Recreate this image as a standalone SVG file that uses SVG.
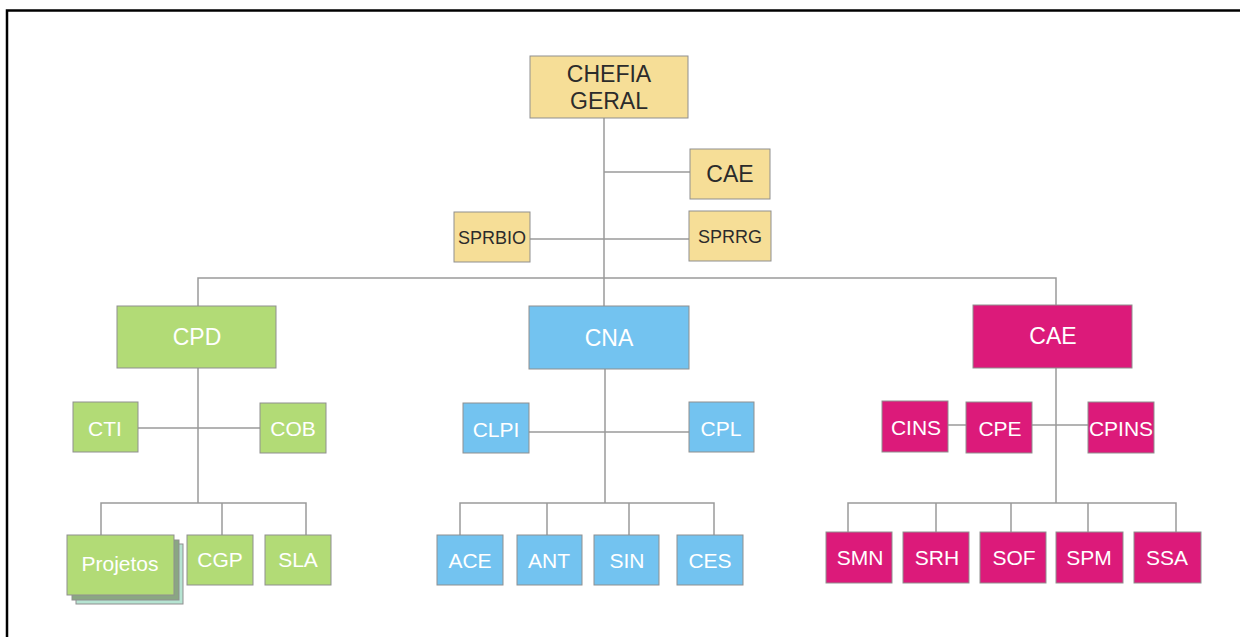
<svg xmlns="http://www.w3.org/2000/svg" width="1240" height="637" viewBox="0 0 1240 637">
  <style>
    .frame { fill: none; stroke: #000; stroke-width: 2.5; }
    .link { fill: none; stroke: #9a9a9a; stroke-width: 1.5; }
    .box { stroke: #8f8f8f; stroke-width: 1; }
    .yellow { fill: #F6DE97; }
    .green { fill: #B2DB76; }
    .blue { fill: #73C3F0; }
    .pink { fill: #DC1A7A; }
    text { font-family: "Liberation Sans", Arial, sans-serif; text-anchor: middle; dominant-baseline: central; }
    .dark { fill: #2b2b2b; }
    .light { fill: #ffffff; }
    .big { font-size: 23px; }
    .mid { font-size: 21px; }
    .sm { font-size: 18px; }
  </style>
  <rect width="1240" height="637" fill="#ffffff"/>
  <!-- page frame: top and left edges -->
  <path class="frame" d="M7 637 V10.5 H1240"/>

  <!-- connectors -->
  <g id="connectors">
    <path class="link" d="M604 118 V306"/>
    <path class="link" d="M604 172 H690"/>
    <path class="link" d="M530 239 H689"/>
    <path class="link" d="M198 306 V278 H1056 V305"/>
    <!-- CPD branch -->
    <path class="link" d="M198 368 V503"/>
    <path class="link" d="M138 428 H260"/>
    <path class="link" d="M101 535 V503 H306 V535"/>
    <path class="link" d="M222 503 V535"/>
    <!-- CNA branch -->
    <path class="link" d="M605 369 V503"/>
    <path class="link" d="M529 432 H689"/>
    <path class="link" d="M460 535 V503 H714 V535"/>
    <path class="link" d="M547 503 V535"/>
    <path class="link" d="M629 503 V535"/>
    <!-- CAE branch -->
    <path class="link" d="M1056 368 V503"/>
    <path class="link" d="M948 425 H966"/>
    <path class="link" d="M1032 425 H1088"/>
    <path class="link" d="M848 532 V503 H1176 V532"/>
    <path class="link" d="M936 503 V532"/>
    <path class="link" d="M1011 503 V532"/>
    <path class="link" d="M1088 503 V532"/>
  </g>

  <!-- top level -->
  <g id="chefia">
    <rect class="box yellow" x="530" y="56" width="158" height="62"/>
    <text class="dark big" x="609" y="74">CHEFIA</text>
    <text class="dark big" x="609" y="101">GERAL</text>
  </g>
  <g id="cae-top">
    <rect class="box yellow" x="690" y="149" width="80" height="50"/>
    <text class="dark big" x="730" y="174">CAE</text>
  </g>
  <g id="sprbio">
    <rect class="box yellow" x="454" y="212" width="76" height="50"/>
    <text class="dark sm" x="492" y="238">SPRBIO</text>
  </g>
  <g id="sprrg">
    <rect class="box yellow" x="689" y="211" width="82" height="50"/>
    <text class="dark sm" x="730" y="237">SPRRG</text>
  </g>

  <!-- CPD branch -->
  <g id="cpd">
    <rect class="box green" x="117" y="306" width="159" height="62"/>
    <text class="light big" x="197" y="337">CPD</text>
  </g>
  <g id="cti">
    <rect class="box green" x="73" y="402" width="65" height="50"/>
    <text class="light mid" x="105" y="428">CTI</text>
  </g>
  <g id="cob">
    <rect class="box green" x="260" y="403" width="66" height="50"/>
    <text class="light mid" x="293" y="428">COB</text>
  </g>
  <g id="projetos">
    <rect x="76" y="544" width="107" height="60" fill="#B6E4D2" stroke="#8f8f8f" stroke-width="1"/>
    <rect x="72" y="540" width="107" height="60" fill="#8AA683" stroke="#8f8f8f" stroke-width="1"/>
    <rect class="box green" x="67" y="535" width="107" height="60"/>
    <text class="light mid" x="120" y="563">Projetos</text>
  </g>
  <g id="cgp">
    <rect class="box green" x="187" y="535" width="66" height="50"/>
    <text class="light mid" x="220" y="559">CGP</text>
  </g>
  <g id="sla">
    <rect class="box green" x="265" y="535" width="66" height="50"/>
    <text class="light mid" x="298" y="559">SLA</text>
  </g>

  <!-- CNA branch -->
  <g id="cna">
    <rect class="box blue" x="529" y="306" width="160" height="63"/>
    <text class="light big" x="609" y="338">CNA</text>
  </g>
  <g id="clpi">
    <rect class="box blue" x="463" y="403" width="66" height="50"/>
    <text class="light mid" x="496" y="429">CLPI</text>
  </g>
  <g id="cpl">
    <rect class="box blue" x="689" y="402" width="65" height="50"/>
    <text class="light mid" x="721" y="428">CPL</text>
  </g>
  <g id="ace">
    <rect class="box blue" x="437" y="535" width="66" height="50"/>
    <text class="light mid" x="470" y="560">ACE</text>
  </g>
  <g id="ant">
    <rect class="box blue" x="517" y="535" width="65" height="50"/>
    <text class="light mid" x="549" y="560">ANT</text>
  </g>
  <g id="sin">
    <rect class="box blue" x="594" y="535" width="65" height="50"/>
    <text class="light mid" x="627" y="560">SIN</text>
  </g>
  <g id="ces">
    <rect class="box blue" x="677" y="535" width="66" height="50"/>
    <text class="light mid" x="710" y="560">CES</text>
  </g>

  <!-- CAE branch -->
  <g id="cae">
    <rect class="box pink" x="973" y="305" width="159" height="63"/>
    <text class="light big" x="1053" y="336">CAE</text>
  </g>
  <g id="cins">
    <rect class="box pink" x="882" y="401" width="66" height="51"/>
    <text class="light mid" x="916" y="427">CINS</text>
  </g>
  <g id="cpe">
    <rect class="box pink" x="966" y="402" width="66" height="51"/>
    <text class="light mid" x="1000" y="428">CPE</text>
  </g>
  <g id="cpins">
    <rect class="box pink" x="1088" y="402" width="66" height="51"/>
    <text class="light mid" x="1121" y="428">CPINS</text>
  </g>
  <g id="smn">
    <rect class="box pink" x="826" y="532" width="66" height="51"/>
    <text class="light mid" x="860" y="557">SMN</text>
  </g>
  <g id="srh">
    <rect class="box pink" x="903" y="532" width="66" height="51"/>
    <text class="light mid" x="937" y="557">SRH</text>
  </g>
  <g id="sof">
    <rect class="box pink" x="980" y="532" width="66" height="51"/>
    <text class="light mid" x="1014" y="557">SOF</text>
  </g>
  <g id="spm">
    <rect class="box pink" x="1056" y="532" width="67" height="51"/>
    <text class="light mid" x="1089" y="557">SPM</text>
  </g>
  <g id="ssa">
    <rect class="box pink" x="1134" y="532" width="67" height="51"/>
    <text class="light mid" x="1167" y="557">SSA</text>
  </g>
</svg>
